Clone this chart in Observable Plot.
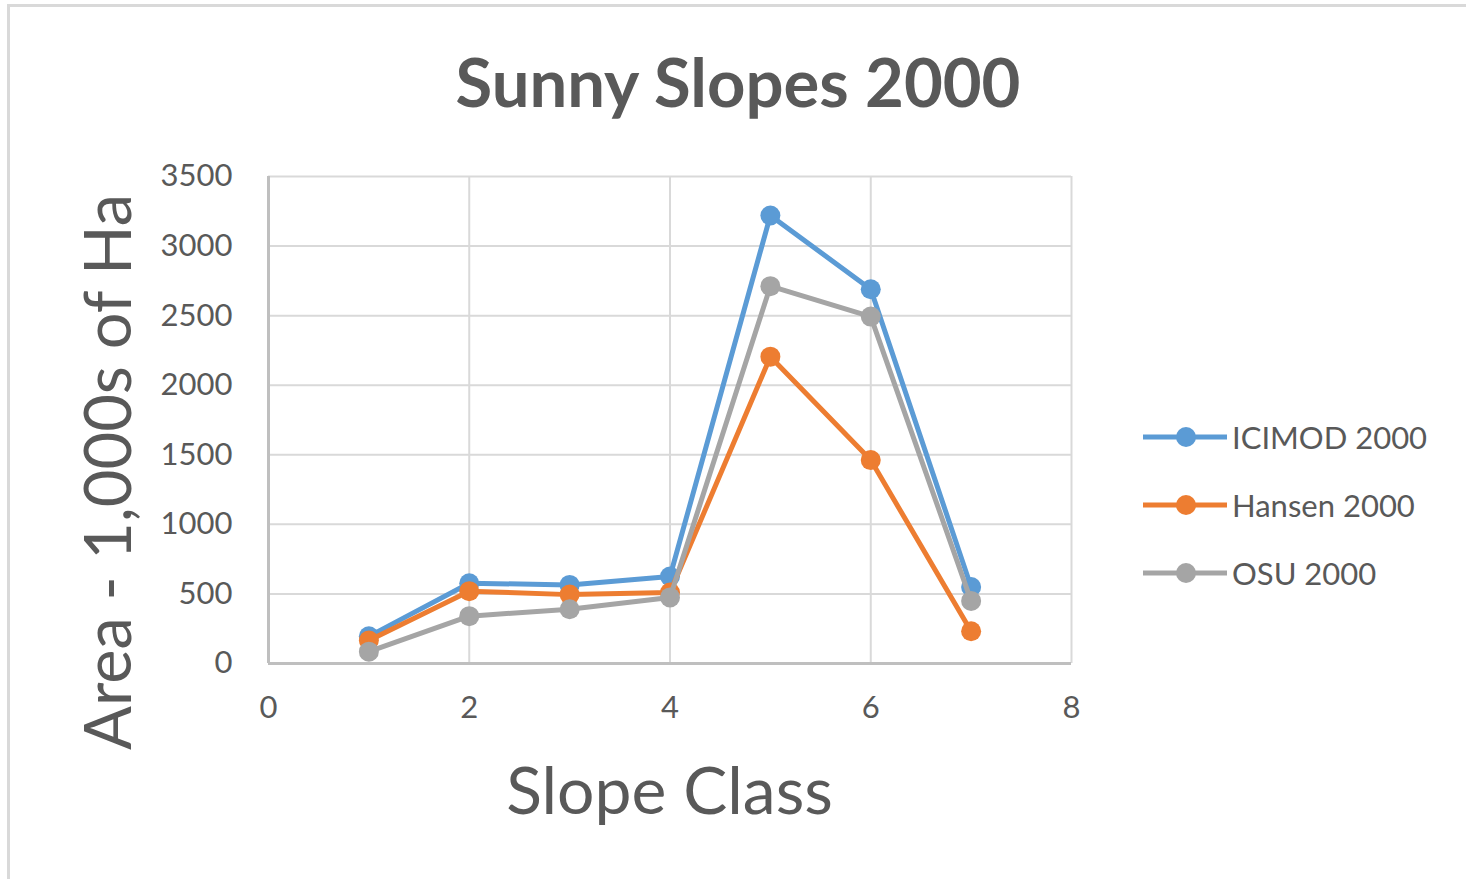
<!DOCTYPE html>
<html>
<head>
<meta charset="utf-8">
<script src="https://cdn.jsdelivr.net/npm/d3@7"></script>
<script src="https://cdn.jsdelivr.net/npm/@observablehq/plot@0.6"></script>
<style>
  html, body { margin: 0; padding: 0; background: #fff; }
  #wrap { position: relative; width: 1466px; height: 879px; overflow: hidden; font-family: Lato, "Open Sans", sans-serif; color: #595959; }
  #frame { position: absolute; left: 7px; top: 4px; right: -10px; bottom: -10px; border-left: 3px solid #D9D9D9; border-top: 3px solid #D9D9D9; }
  #chart { position: absolute; left: 0; top: 0; }
  .lbl { position: absolute; white-space: nowrap; }
  #title { left: 0; width: 1476px; top: 41px; text-align: center; font-weight: 700; font-size: 67px; }
  #xlabel { left: 268px; width: 803px; top: 749px; text-align: center; font-size: 66px; }
  #ylabel { left: 106px; top: 472px; font-size: 65px; transform: translate(-50%, -50%) rotate(-90deg); }
  #legend { position: absolute; left: 1143px; top: 403px; }
  .item { display: flex; align-items: center; height: 68px; font-size: 31px; }
  .item svg { margin-right: 5px; }
</style>
</head>
<body>
<div id="wrap">
  <div id="frame"></div>
  <div id="chart"></div>
  <div class="lbl" id="title">Sunny Slopes 2000</div>
  <div class="lbl" id="ylabel">Area - 1,000s of Ha</div>
  <div class="lbl" id="xlabel">Slope Class</div>
  <div id="legend"></div>
</div>
<script>
// ---- data ----
const slopeClass = [1, 2, 3, 4, 5, 6, 7];
const icimod2000 = [195, 577, 565, 625, 3220, 2690, 550];
const hansen2000 = [165, 520, 495, 510, 2205, 1462, 232];
const osu2000    = [85, 340, 390, 475, 2712, 2493, 450];
const seriesNames = ["ICIMOD 2000", "Hansen 2000", "OSU 2000"];
const seriesColors = ["#5B9BD5", "#ED7D31", "#A5A5A5"];
const xTicks = [0, 2, 4, 6, 8];
const yTicks = [0, 500, 1000, 1500, 2000, 2500, 3000, 3500];

const seriesValues = [icimod2000, hansen2000, osu2000];
const rows = [];
seriesNames.forEach((name, i) => {
  slopeClass.forEach((c, j) => rows.push({series: name, cls: c, area: seriesValues[i][j]}));
});

const marks = [
  Plot.gridY(yTicks, {stroke: "#D9D9D9", strokeOpacity: 1, strokeWidth: 2}),
  Plot.gridX(xTicks, {stroke: "#D9D9D9", strokeOpacity: 1, strokeWidth: 2}),
  Plot.ruleY([0], {stroke: "#BFBFBF", strokeWidth: 3}),
  Plot.ruleX([0], {stroke: "#BFBFBF", strokeWidth: 3}),
  Plot.axisY(yTicks, {tickSize: 0, tickPadding: 36, fontSize: 31, fill: "#595959", label: null, tickFormat: d => String(d)}),
  Plot.axisX(xTicks, {tickSize: 0, tickPadding: 32, fontSize: 31, fill: "#595959", label: null, tickFormat: d => String(d)})
];
seriesNames.forEach((name) => {
  const d = rows.filter(r => r.series === name);
  marks.push(Plot.line(d, {x: "cls", y: "area", stroke: "series", strokeWidth: 5}));
  marks.push(Plot.dot(d, {x: "cls", y: "area", fill: "series", r: 10}));
});

const chart = Plot.plot({
  width: 1466,
  height: 879,
  marginLeft: 268,
  marginRight: 395,
  marginTop: 176,
  marginBottom: 216,
  style: {background: "transparent", fontFamily: "Lato, 'Open Sans', sans-serif", overflow: "visible"},
  x: {domain: [0, 8]},
  y: {domain: [0, 3500]},
  color: {domain: seriesNames, range: seriesColors},
  marks
});
document.getElementById("chart").appendChild(chart);

// legend
const legend = document.getElementById("legend");
seriesNames.forEach((name, i) => {
  const item = document.createElement("div");
  item.className = "item";
  item.innerHTML = `<svg width="84" height="24"><line x1="0" y1="12" x2="84" y2="12" stroke="${seriesColors[i]}" stroke-width="5"/><circle cx="43" cy="12" r="10" fill="${seriesColors[i]}"/></svg><span>${name}</span>`;
  legend.appendChild(item);
});
</script>
</body>
</html>
